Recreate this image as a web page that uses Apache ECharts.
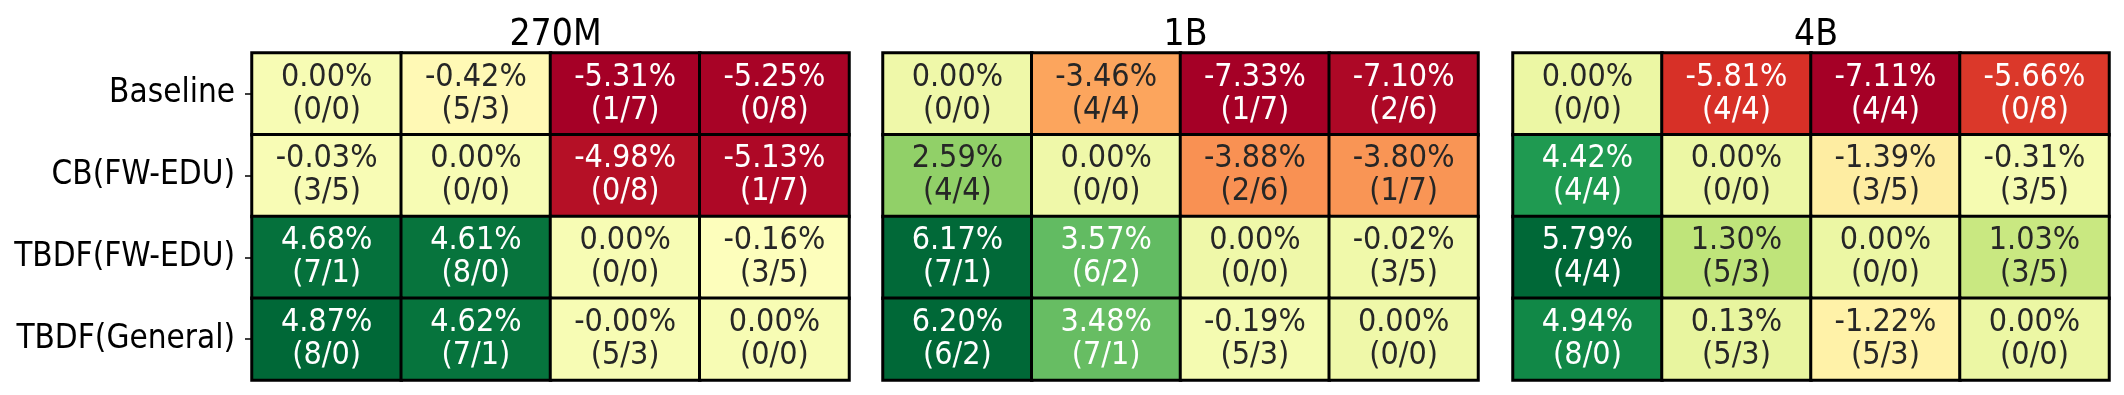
<!DOCTYPE html>
<html>
<head>
<meta charset="utf-8">
<script src="https://cdn.jsdelivr.net/npm/echarts@6/dist/echarts.min.js"></script>
<style>
html, body { margin: 0; padding: 0; background: #fff; }
#container { width: 2124px; height: 395px; }
</style>
</head>
<body>
<div id="container"></div>
<script>
// row / column categories (same methods on both axes)
var methods = ['Baseline', 'CB(FW-EDU)', 'TBDF(FW-EDU)', 'TBDF(General)'];
var panelTitles = ['270M', '1B', '4B'];

// relative gain in %, one row per method
var gain270M = [
    [0.00, -0.42, -5.31, -5.25],
    [-0.03, 0.00, -4.98, -5.13],
    [4.68, 4.61, 0.00, -0.16],
    [4.87, 4.62, -0.001, 0.00]
];
var gain1B = [
    [0.00, -3.46, -7.33, -7.10],
    [2.59, 0.00, -3.88, -3.80],
    [6.17, 3.57, 0.00, -0.02],
    [6.20, 3.48, -0.19, 0.00]
];
var gain4B = [
    [0.00, -5.81, -7.11, -5.66],
    [4.42, 0.00, -1.39, -0.31],
    [5.79, 1.30, 0.00, 1.03],
    [4.94, 0.13, -1.22, 0.00]
];

// win / loss counts
var winLoss270M = [
    ['0/0', '5/3', '1/7', '0/8'],
    ['3/5', '0/0', '0/8', '1/7'],
    ['7/1', '8/0', '0/0', '3/5'],
    ['8/0', '7/1', '5/3', '0/0']
];
var winLoss1B = [
    ['0/0', '4/4', '1/7', '2/6'],
    ['4/4', '0/0', '2/6', '1/7'],
    ['7/1', '6/2', '0/0', '3/5'],
    ['6/2', '7/1', '5/3', '0/0']
];
var winLoss4B = [
    ['0/0', '4/4', '4/4', '0/8'],
    ['4/4', '0/0', '3/5', '3/5'],
    ['4/4', '5/3', '0/0', '3/5'],
    ['8/0', '5/3', '5/3', '0/0']
];

var gains = [gain270M, gain1B, gain4B];
var winLosses = [winLoss270M, winLoss1B, winLoss4B];

// RdYlGn
var cmap = ['#a50026', '#d73027', '#f46d43', '#fdae61', '#fee08b', '#ffffbf',
            '#d9ef8b', '#a6d96a', '#66bd63', '#1a9850', '#006837'];

var grids = [
    { left: 252, width: 597 },
    { left: 883, width: 595 },
    { left: 1513, width: 596 }
];

var FONT = '"DejaVu Sans Condensed", "DejaVu Sans"';

function hexRgb(h) {
    return [parseInt(h.substr(1, 2), 16), parseInt(h.substr(3, 2), 16), parseInt(h.substr(5, 2), 16)];
}
function cmapAt(t) {
    t = Math.max(0, Math.min(1, t));
    var p = t * (cmap.length - 1);
    var i = Math.min(Math.floor(p), cmap.length - 2);
    var f = p - i;
    var a = hexRgb(cmap[i]), b = hexRgb(cmap[i + 1]);
    return [0, 1, 2].map(function (k) { return a[k] + (b[k] - a[k]) * f; });
}
// seaborn-like annotation colour
function textColor(rgb) {
    var lin = rgb.map(function (c) {
        c = c / 255;
        return c <= 0.03928 ? c / 12.92 : Math.pow((c + 0.055) / 1.055, 2.4);
    });
    var lum = 0.2126 * lin[0] + 0.7152 * lin[1] + 0.0722 * lin[2];
    return lum > 0.408 ? '#262626' : '#ffffff';
}

var dom = document.getElementById('container');
var myChart = echarts.init(dom, null, { renderer: 'canvas' });

var titles = [], xAxes = [], yAxes = [], gridList = [], series = [], visualMaps = [];

gains.forEach(function (gain, p) {
    var flat = [].concat.apply([], gain);
    var vmin = Math.min.apply(null, flat);
    var vmax = Math.max.apply(null, flat);
    var g = grids[p];

    gridList.push({ left: g.left, width: g.width, top: 53, bottom: 15 });
    titles.push({
        text: panelTitles[p],
        left: g.left + g.width / 2,
        top: 30,
        textAlign: 'center',
        textVerticalAlign: 'middle',
        textStyle: { fontFamily: FONT, fontSize: 37, fontWeight: 'normal', color: '#000' }
    });
    xAxes.push({
        type: 'category', gridIndex: p, data: methods, show: false
    });
    yAxes.push({
        type: 'category', gridIndex: p, data: methods, inverse: true,
        axisLine: { show: false },
        axisTick: { show: p === 0, length: 7, alignWithLabel: true, lineStyle: { color: '#000', width: 1.5 } },
        axisLabel: {
            show: p === 0, margin: 17, color: '#000',
            fontFamily: FONT, fontSize: 33
        },
        splitLine: { show: false }
    });

    var data = [];
    gain.forEach(function (row, r) {
        row.forEach(function (v, c) {
            var rgb = cmapAt((v - vmin) / (vmax - vmin));
            data.push({
                value: [c, r, v],
                wl: winLosses[p][r][c],
                label: { color: textColor(rgb) }
            });
        });
    });

    series.push({
        type: 'heatmap',
        xAxisIndex: p,
        yAxisIndex: p,
        data: data,
        itemStyle: { borderColor: '#000', borderWidth: 3 },
        label: {
            show: true,
            fontFamily: FONT,
            fontSize: 32,
            lineHeight: 33,
            formatter: function (prm) {
                return prm.value[2].toFixed(2) + '%\n(' + prm.data.wl + ')';
            }
        },
        emphasis: { disabled: true }
    });

    visualMaps.push({
        type: 'continuous',
        show: false,
        seriesIndex: p,
        dimension: 2,
        min: vmin,
        max: vmax,
        inRange: { color: cmap }
    });
});

var option = {
    animation: false,
    backgroundColor: '#fff',
    title: titles,
    grid: gridList,
    xAxis: xAxes,
    yAxis: yAxes,
    visualMap: visualMaps,
    series: series
};

myChart.setOption(option);
window.addEventListener('resize', myChart.resize);
</script>
</body>
</html>
